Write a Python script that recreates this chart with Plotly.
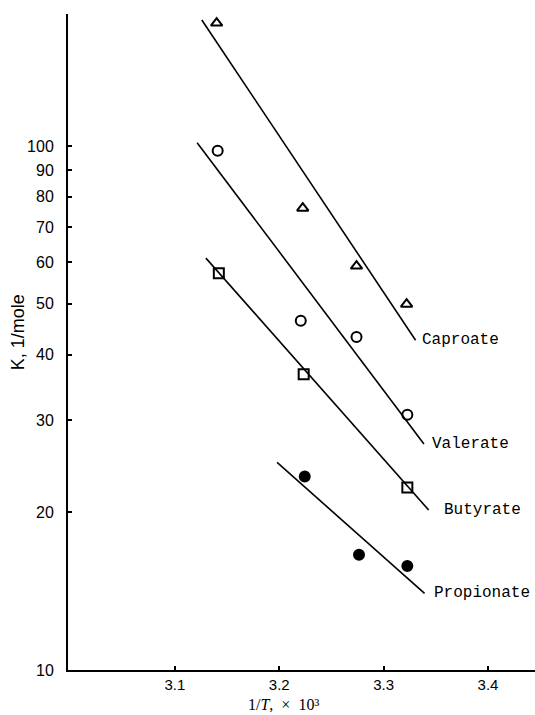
import math
import plotly.graph_objects as go

# Data (x = 1/T x 10^3, y = K in l/mole)
cap_x = [3.140, 3.2225, 3.274, 3.322]
cap_y = [171.7, 76.1, 59.0, 49.9]
val_x = [3.141, 3.2206, 3.274, 3.3227]
val_y = [98.0, 46.4, 43.2, 30.7]
but_x = [3.1421, 3.2234, 3.3227]
but_y = [57.2, 36.7, 22.3]
pro_x = [3.2244, 3.2764, 3.3227]
pro_y = [23.4, 16.6, 15.8]

# Fitted lines (end points)
cap_line_x = [3.1258, 3.3306]
cap_line_y = [174.0, 42.6]
val_line_x = [3.1213, 3.3386]
val_line_y = [101.5, 27.0]
but_line_x = [3.1297, 3.3431]
but_line_y = [61.1, 20.2]
pro_line_x = [3.1979, 3.3392]
pro_line_y = [24.9, 14.0]

names = ["Caproate", "Valerate", "Butyrate", "Propionate"]
y_ticks = [10, 20, 30, 40, 50, 60, 70, 80, 90, 100]
x_ticks = [3.1, 3.2, 3.3, 3.4]

fig = go.Figure()

series = [
    (cap_x, cap_y, cap_line_x, cap_line_y, "triangle-up-open", names[0], 4),
    (val_x, val_y, val_line_x, val_line_y, "circle-open", names[1], 6),
    (but_x, but_y, but_line_x, but_line_y, "square-open", names[2], 13),
    (pro_x, pro_y, pro_line_x, pro_line_y, "circle", names[3], 7),
]

for px, py, lx, ly, sym, name, shift in series:
    fig.add_trace(go.Scatter(x=lx, y=ly, mode="lines",
                             line=dict(color="black", width=1.6),
                             showlegend=False, hoverinfo="skip"))
    fig.add_trace(go.Scatter(x=px, y=py, mode="markers", name=name,
                             marker=dict(symbol=sym, size=10, color="black",
                                         line=dict(color="black", width=2)),
                             showlegend=False))
    fig.add_annotation(x=lx[-1], y=math.log10(ly[-1]), yref="y", xref="x",
                       text=name, showarrow=False, xanchor="left",
                       yanchor="middle", xshift=shift,
                       font=dict(family="Courier New, Liberation Mono, monospace",
                                 size=16, color="black"))

fig.update_xaxes(range=[2.9976, 3.445], tickvals=x_ticks,
                 ticktext=[f"{v:.1f}" for v in x_ticks],
                 ticks="inside", ticklen=4, tickcolor="black", tickwidth=1.5,
                 showline=True, linecolor="black", linewidth=2,
                 showgrid=False, zeroline=False,
                 tickfont=dict(family="Liberation Sans, Arial, sans-serif", size=15, color="black"))
fig.update_yaxes(type="log", range=[1.0, 2.252], tickvals=y_ticks,
                 ticktext=[str(v) for v in y_ticks],
                 ticks="inside", ticklen=4, tickcolor="black", tickwidth=1.5,
                 showline=True, linecolor="black", linewidth=2,
                 showgrid=False, zeroline=False, ticklabelstandoff=9,
                 tickfont=dict(family="Liberation Sans, Arial, sans-serif", size=16, color="black"))

fig.add_annotation(xref="paper", yref="paper", x=0.4625, y=-0.053,
                   text="1/<i>T</i>,\u00a0\u00a0×\u00a0\u00a010\u00b3", showarrow=False,
                   xanchor="center", yanchor="middle",
                   font=dict(family="Liberation Serif, Times New Roman, serif", size=16, color="black"))
fig.add_annotation(xref="paper", yref="paper", x=-0.107, y=0.515,
                   text="K, 1/mole", showarrow=False, textangle=-90,
                   xanchor="center", yanchor="middle",
                   font=dict(family="Liberation Sans, Arial, sans-serif", size=18, color="black"))

fig.update_layout(width=535, height=715,
                  margin=dict(l=68, r=0, t=14, b=45),
                  plot_bgcolor="white", paper_bgcolor="white",
                  showlegend=False)

fig.write_html("out.html")
